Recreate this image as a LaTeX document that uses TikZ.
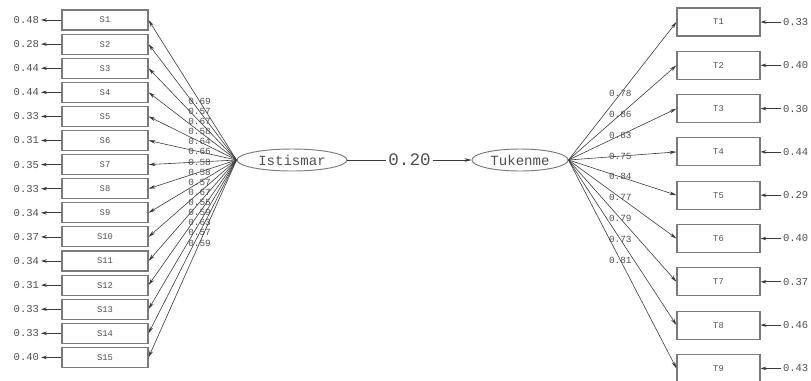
\documentclass[tikz,border=0pt]{standalone}
\usepackage{fontspec}
\setmonofont{Liberation Mono}
\usetikzlibrary{arrows.meta,shapes.geometric}
\definecolor{boxgray}{HTML}{7A7A7A}
\definecolor{linegray}{HTML}{3A3A3A}
\definecolor{txtgray}{HTML}{505050}
\tikzset{
  obsbox/.style={
    rectangle, draw=boxgray, line width=0.9pt, inner sep=0pt,
    minimum width=#1, font=\ttfamily\fontsize{7.5}{8}\selectfont, text=txtgray
  },
  obsbox/.default=2.58cm,
  latent/.style={
    ellipse, draw=boxgray, line width=0.8pt, inner sep=0pt,
    minimum width=#1, minimum height=0.66cm,
    font=\ttfamily\fontsize{12}{13}\selectfont, text=txtgray
  },
  loadarrow/.style={
    -{Stealth[length=6pt,width=3pt]}, line width=0.5pt, color=linegray
  },
  errarrow/.style={
    -{Stealth[length=5pt,width=3pt]}, line width=0.6pt, color=linegray
  },
  loadlabel/.style={
    font=\ttfamily\fontsize{8}{9}\selectfont, text=txtgray, inner sep=0.5pt
  },
  errlabel/.style={
    font=\ttfamily\fontsize{9}{10}\selectfont, text=txtgray, inner sep=1.5pt
  },
}
\begin{document}
\begin{tikzpicture}[x=0.03cm,y=-0.03cm]
  \useasboundingbox[fill=white] (0,0) rectangle (811,380);

  % Latent variables
  \node[latent=3.3cm] (ist) at (292,160) {Istismar};
  \node[latent=2.88cm] (tuk) at (520,160) {Tukenme};
  \draw[loadarrow] (ist) -- (tuk)
    node[midway, fill=white, inner sep=2pt, text=txtgray,
         font=\ttfamily\fontsize{15}{16}\selectfont] {0.20};

  % Istismar indicators
  \foreach \i/\l/\e in {1/0.69/0.48, 2/0.57/0.28, 3/0.67/0.44, 4/0.58/0.44,
      5/0.64/0.33, 6/0.66/0.31, 7/0.58/0.35, 8/0.58/0.33, 9/0.57/0.34,
      10/0.67/0.37, 11/0.55/0.34, 12/0.59/0.31, 13/0.63/0.33,
      14/0.57/0.33, 15/0.59/0.40} {
    \pgfmathsetmacro{\y}{20 + (\i-1)*24.1}
    \node[obsbox, minimum height=0.6cm] (s\i) at (105,\y) {S\i};
    \node[errlabel, anchor=east] (es\i) at (41,\y) {\e};
    \draw[errarrow] (s\i.west) -- (es\i.east);
    \draw[loadarrow] (ist.west) -- (s\i.east) node[loadlabel, pos=0.42] {\l};
  }

  % Tukenme indicators
  \foreach \i/\l/\e in {1/0.78/0.33, 2/0.86/0.40, 3/0.83/0.30, 4/0.75/0.44,
      5/0.84/0.29, 6/0.77/0.40, 7/0.79/0.37, 8/0.73/0.46, 9/0.81/0.43} {
    \pgfmathsetmacro{\y}{22 + (\i-1)*43.3}
    \node[obsbox=2.49cm, minimum height=0.84cm] (t\i) at (718.5,\y) {T\i};
    \node[errlabel, anchor=west] (et\i) at (781,\y) {\e};
    \draw[errarrow] (et\i.west) -- (t\i.east);
    \draw[loadarrow] (tuk.east) -- (t\i.west) node[loadlabel, pos=0.48] {\l};
  }
\end{tikzpicture}
\end{document}
